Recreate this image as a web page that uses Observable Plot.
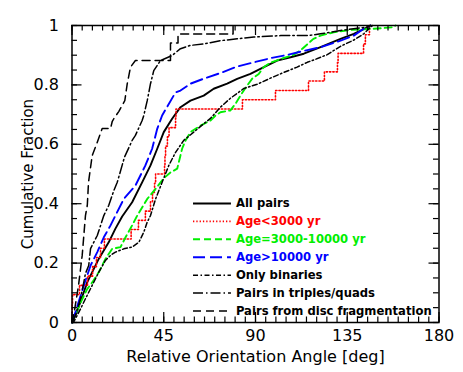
<!DOCTYPE html>
<html><head><meta charset="utf-8">
<script src="https://cdn.jsdelivr.net/npm/d3@7"></script>
<script src="https://cdn.jsdelivr.net/npm/@observablehq/plot@0.6"></script>
<style>body{margin:0;background:#fff}#chart{width:463px;height:372px}</style>
</head><body><div id="chart"></div>
<script>
// ---------- data ----------
const seriesNames = ["All pairs", "Age<3000 yr", "Age=3000-10000 yr", "Age>10000 yr",
  "Only binaries", "Pairs in triples/quads", "Pairs from disc fragmentation"];

const allPairsX = [0, 2.5, 7.5, 13.1, 18.0, 21.3, 24.6, 29.5, 34.4, 38.5, 41.8, 45.0, 49.1, 53.2, 58.1, 64.6, 69.5, 76.1, 81.0, 87.5, 94.1, 100.6, 107.2, 113.7, 121.9, 131.7, 138.2, 144.8, 146.4];
const allPairsY = [0, 0.037, 0.136, 0.214, 0.27, 0.316, 0.357, 0.405, 0.472, 0.529, 0.585, 0.641, 0.686, 0.725, 0.747, 0.764, 0.787, 0.804, 0.82, 0.837, 0.86, 0.882, 0.893, 0.905, 0.927, 0.955, 0.972, 0.994, 1];

const ageYoungX = [0, 0.05, 0.1, 0.25, 3.7, 7.6, 10.1, 12.0, 14.0, 15.9, 29.0, 32.6, 36.0, 38.5, 39.5, 40.5, 41.0, 45.4, 45.6, 45.9, 46.8, 47.6, 50.8, 51.0, 83.6, 99.8, 116.0, 123.8, 130.2, 130.5, 143.0, 143.9, 145.9];
const ageYoungY = [0, 0.031, 0.063, 0.094, 0.125, 0.156, 0.188, 0.219, 0.25, 0.281, 0.313, 0.344, 0.375, 0.406, 0.438, 0.469, 0.5, 0.531, 0.563, 0.594, 0.625, 0.656, 0.688, 0.719, 0.75, 0.781, 0.813, 0.844, 0.875, 0.906, 0.938, 0.969, 1];

const ageMidX = [0, 4.2, 7.5, 9.9, 13.1, 16.4, 19.7, 23.8, 26.2, 29.5, 32.0, 36.9, 41.0, 44.9, 48.3, 51.6, 54.0, 55.7, 58.1, 63.0, 67.9, 70.4, 72.8, 77.7, 80.2, 82.6, 85.9, 88.4, 91.6, 94.1, 97.4, 103.2, 109.0, 113.0, 118.4, 121.9, 128.3, 136.6, 147.9, 157.2, 158.7];
const ageMidY = [0, 0.067, 0.113, 0.135, 0.169, 0.214, 0.248, 0.254, 0.286, 0.327, 0.36, 0.416, 0.45, 0.485, 0.505, 0.518, 0.585, 0.613, 0.641, 0.663, 0.68, 0.697, 0.708, 0.714, 0.737, 0.764, 0.798, 0.821, 0.837, 0.86, 0.875, 0.889, 0.902, 0.922, 0.955, 0.966, 0.977, 0.985, 0.989, 0.994, 1];

const ageOldX = [0, 1.7, 5.8, 9.1, 12.4, 15.6, 18.9, 21.3, 25.4, 31.1, 36.0, 39.3, 41.8, 44.2, 50.8, 53.2, 58.1, 64.6, 72.8, 81.0, 89.2, 97.4, 105.5, 112.1, 121.9, 131.7, 138.2, 143.1, 146.4];
const ageOldY = [0, 0.035, 0.125, 0.192, 0.237, 0.287, 0.327, 0.36, 0.416, 0.461, 0.529, 0.585, 0.652, 0.697, 0.775, 0.781, 0.804, 0.821, 0.84, 0.862, 0.876, 0.89, 0.901, 0.912, 0.927, 0.949, 0.966, 0.989, 1];

const binariesX = [0, 0.7, 4.2, 6.6, 9.9, 13.1, 16.4, 18.9, 21.3, 25.4, 29.5, 32.8, 35.2, 36.9, 38.5, 41.0, 44.2, 47.5, 50.8, 54.8, 59.7, 64.6, 67.9, 72.8, 77.7, 84.3, 90.8, 97.4, 103.9, 110.4, 115.4, 118.6, 125.2, 131.7, 138.2, 143.1, 146.4, 147.4];
const binariesY = [0, 0, 0.046, 0.08, 0.125, 0.169, 0.209, 0.226, 0.237, 0.248, 0.254, 0.27, 0.304, 0.338, 0.36, 0.416, 0.472, 0.529, 0.573, 0.613, 0.641, 0.669, 0.687, 0.725, 0.755, 0.788, 0.802, 0.823, 0.842, 0.86, 0.876, 0.884, 0.902, 0.93, 0.951, 0.972, 0.994, 1];

const triplesX = [0, 1.7, 4.2, 5.8, 6.6, 8.2, 9.1, 12.4, 15.6, 18.0, 20.5, 22.2, 25.7, 29.5, 31.1, 34.4, 35.2, 36.9, 38.5, 40.1, 43.4, 49.1, 53.2, 58.1, 64.6, 72.8, 81.0, 89.2, 102.3, 116.0, 121.9, 131.7, 138.1, 144.9, 146.4];
const triplesY = [0, 0.024, 0.081, 0.136, 0.165, 0.192, 0.249, 0.293, 0.36, 0.394, 0.444, 0.472, 0.556, 0.613, 0.63, 0.68, 0.697, 0.747, 0.804, 0.848, 0.882, 0.899, 0.922, 0.933, 0.938, 0.949, 0.955, 0.961, 0.966, 0.966, 0.972, 0.983, 0.989, 0.995, 1];

const discX = [0, 1.2, 3.2, 5.0, 5.8, 6.6, 7.5, 8.1, 9.9, 12.4, 14.8, 18.9, 19.7, 20.5, 23.0, 25.9, 27.1, 28.7, 31.1, 48.3, 48.3, 52.0, 52.0, 79.0, 79.0];
const discY = [0, 0.04, 0.125, 0.226, 0.293, 0.36, 0.394, 0.472, 0.562, 0.607, 0.653, 0.653, 0.676, 0.686, 0.711, 0.747, 0.804, 0.86, 0.882, 0.882, 0.941, 0.941, 0.971, 0.971, 1];

const xTickLabels = [0, 45, 90, 135, 180];
const yTickLabels = [0, 0.2, 0.4, 0.6, 0.8, 1];
const xLabel = "Relative Orientation Angle [deg]";
const yLabel = "Cumulative Fraction";

// ---------- styles / layout ----------
const W = 463, H = 372, mL = 71.5, mR = 24.5, mT = 25, mB = 50;
const plotW = W - mL - mR, plotH = H - mT - mB;
const styles = [
  {stroke: "#000000", dash: null, width: 1.9},
  {stroke: "#ff0000", dash: "1.3,2", width: 1.6, curve: "step-after"},
  {stroke: "#00ee00", dash: "7,4", width: 1.9},
  {stroke: "#0000ff", dash: "12,5", width: 1.9},
  {stroke: "#000000", dash: "5,2.5,1.5,2.5", width: 1.5},
  {stroke: "#000000", dash: "10,3,1.5,3", width: 1.5},
  {stroke: "#000000", dash: "8,5", width: 1.5}
];
const seriesX = [allPairsX, ageYoungX, ageMidX, ageOldX, binariesX, triplesX, discX];
const seriesY = [allPairsY, ageYoungY, ageMidY, ageOldY, binariesY, triplesY, discY];
const textColors = ["#000000", "#ff0000", "#00ee00", "#0000ff", "#000000", "#000000", "#000000"];
const legend = {x1: 59.6, x2: 78.2, tx: 80.4, top: 0.4007, step: 0.0603};

const xMinor = d3.range(0, 181, 5);
const yMinor = d3.range(0, 1.0001, 0.05);

const marks = [];
// data lines
seriesNames.forEach((name, i) => {
  const pts = seriesX[i].map((x, j) => ({x, y: seriesY[i][j]}));
  const s = styles[i];
  marks.push(Plot.line(pts, {x: "x", y: "y", stroke: s.stroke, strokeWidth: s.width,
    strokeDasharray: s.dash, curve: s.curve || "linear"}));
});
// legend
seriesNames.forEach((name, i) => {
  const s = styles[i];
  const row = [{name, y: legend.top - i * legend.step}];
  marks.push(Plot.ruleY(row, {y: "y", x1: legend.x1, x2: legend.x2, stroke: s.stroke,
    strokeWidth: s.width, strokeDasharray: s.dash}));
  marks.push(Plot.text(row, {x: legend.tx, y: "y", text: "name", textAnchor: "start",
    fill: textColors[i], fontSize: 11.6, fontWeight: "bold"}));
});
// inward ticks on all four sides
const majorLen = 10, minorLen = 5.5;
marks.push(
  Plot.ruleX(xMinor, {insetTop: plotH - minorLen, stroke: "black", strokeWidth: 1.2}),
  Plot.ruleX(xMinor, {insetBottom: plotH - minorLen, stroke: "black", strokeWidth: 1.2}),
  Plot.ruleX(xTickLabels, {insetTop: plotH - majorLen, stroke: "black", strokeWidth: 1.2}),
  Plot.ruleX(xTickLabels, {insetBottom: plotH - majorLen, stroke: "black", strokeWidth: 1.2}),
  Plot.ruleY(yMinor, {insetRight: plotW - minorLen, stroke: "black", strokeWidth: 1.2}),
  Plot.ruleY(yMinor, {insetLeft: plotW - minorLen, stroke: "black", strokeWidth: 1.2}),
  Plot.ruleY(yTickLabels, {insetRight: plotW - majorLen, stroke: "black", strokeWidth: 1.2}),
  Plot.ruleY(yTickLabels, {insetLeft: plotW - majorLen, stroke: "black", strokeWidth: 1.2}),
  Plot.axisX(xTickLabels, {tickSize: 0, tickPadding: 7, fontSize: 16, tickFormat: d => String(d), label: null}),
  Plot.axisY(yTickLabels, {tickSize: 0, tickPadding: 13, fontSize: 16, letterSpacing: -0.8, tickFormat: d => String(d), label: null}),
  Plot.frame({stroke: "black", strokeWidth: 1.5}),
  Plot.text([xLabel], {frameAnchor: "bottom", textAnchor: "middle", lineAnchor: "middle", dy: 34, fontSize: 16}),
  Plot.text([yLabel], {frameAnchor: "left", textAnchor: "middle", lineAnchor: "middle", rotate: -90, dx: -43.5, fontSize: 15})
);

const chart = Plot.plot({
  width: W, height: H,
  marginLeft: mL, marginRight: mR, marginTop: mT, marginBottom: mB,
  style: {fontFamily: "DejaVu Sans", background: "white", color: "black", overflow: "visible"},
  x: {domain: [0, 180]},
  y: {domain: [0, 1]},
  marks
});
document.getElementById("chart").appendChild(chart);
</script>
</body></html>
